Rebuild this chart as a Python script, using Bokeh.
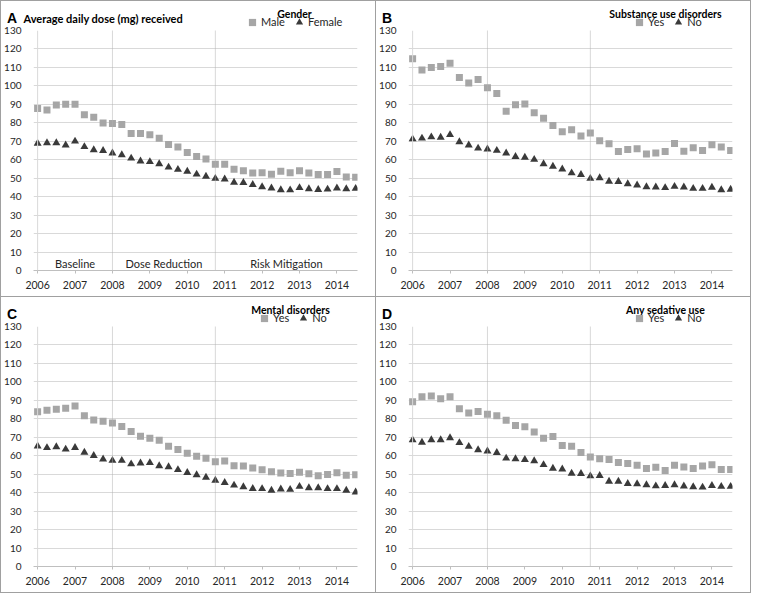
from bokeh.plotting import figure
from bokeh.models import Range1d, FixedTicker, Span, Label, Legend, LegendItem
from bokeh.layouts import column, row
from bokeh.embed import file_html
from bokeh.resources import INLINE

# ---------------- data ----------------
quarters = [2006.0, 2006.25, 2006.5, 2006.75, 2007.0, 2007.25, 2007.5, 2007.75,
            2008.0, 2008.25, 2008.5, 2008.75, 2009.0, 2009.25, 2009.5, 2009.75,
            2010.0, 2010.25, 2010.5, 2010.75, 2011.0, 2011.25, 2011.5, 2011.75,
            2012.0, 2012.25, 2012.5, 2012.75, 2013.0, 2013.25, 2013.5, 2013.75,
            2014.0, 2014.25, 2014.5]
year_ticks = [2006, 2007, 2008, 2009, 2010, 2011, 2012, 2013, 2014]
y_ticks = [0, 10, 20, 30, 40, 50, 60, 70, 80, 90, 100, 110, 120, 130]

gender_male = [87.7, 86.9, 89.7, 90.0, 90.0, 84.4, 83.0, 79.9, 79.6, 79.1,
               74.2, 74.2, 73.5, 71.6, 68.3, 66.9, 63.9, 61.8, 60.4, 57.5,
               57.5, 54.9, 54.0, 52.8, 52.9, 52.1, 53.7, 52.9, 54.0, 52.8,
               52.0, 52.0, 53.6, 50.7, 50.5]
gender_female = [68.8, 69.1, 69.1, 67.9, 70.0, 67.0, 65.3, 64.9, 63.6, 62.6,
                 60.8, 59.2, 58.9, 57.7, 55.9, 54.7, 53.7, 52.1, 51.0, 49.8,
                 49.5, 47.7, 47.6, 46.5, 45.3, 44.6, 43.7, 43.6, 44.8, 44.2,
                 43.8, 44.0, 44.6, 44.2, 44.4]
sud_yes = [114.7, 108.6, 110.0, 110.5, 112.3, 104.6, 101.5, 103.4, 99.0, 95.9,
           86.2, 89.8, 90.2, 85.5, 82.5, 78.5, 75.2, 76.3, 72.8, 74.5,
           70.3, 68.6, 64.5, 65.6, 66.0, 63.1, 63.6, 64.5, 68.8, 64.6,
           66.5, 65.0, 68.1, 66.9, 65.0]
sud_no = [71.2, 71.6, 72.3, 72.1, 73.5, 69.7, 67.9, 66.2, 65.7, 65.0,
          63.6, 61.7, 61.3, 60.1, 57.7, 56.4, 54.9, 52.8, 51.9, 49.8,
          50.2, 48.3, 48.1, 46.9, 46.2, 45.3, 45.1, 44.8, 45.5, 45.1,
          44.4, 44.4, 45.0, 43.7, 43.9]
mental_yes = [83.8, 84.6, 85.2, 85.7, 86.9, 81.7, 79.4, 78.7, 77.7, 75.9,
              73.1, 70.5, 69.5, 68.4, 65.1, 63.4, 61.4, 59.7, 58.6, 56.7,
              57.1, 54.6, 54.5, 53.4, 52.4, 51.3, 50.6, 50.4, 51.0, 50.3,
              49.2, 49.9, 50.8, 49.4, 49.7]
mental_no = [65.2, 64.3, 64.8, 63.5, 64.4, 61.8, 60.0, 58.1, 57.4, 57.4,
             55.5, 56.0, 56.2, 54.5, 53.9, 52.4, 50.8, 49.6, 48.3, 46.6,
             45.4, 44.0, 43.1, 42.2, 42.1, 41.2, 41.9, 41.7, 43.3, 42.6,
             42.6, 42.1, 42.1, 41.2, 40.3]
sedative_yes = [89.3, 91.9, 92.4, 90.8, 91.9, 85.4, 83.2, 83.9, 82.5, 81.6,
                79.2, 76.4, 75.7, 72.8, 69.5, 70.4, 65.6, 65.1, 61.8, 59.3,
                58.3, 57.9, 56.4, 55.8, 54.8, 53.1, 53.8, 52.0, 54.8, 53.9,
                53.1, 54.5, 55.1, 52.5, 52.5]
sedative_no = [68.5, 67.2, 68.6, 68.6, 69.7, 67.0, 65.0, 63.2, 62.5, 61.7,
               58.6, 58.3, 57.9, 57.2, 55.1, 53.1, 52.7, 50.4, 50.3, 49.0,
               49.2, 46.1, 46.1, 44.9, 44.7, 44.2, 43.6, 43.8, 44.2, 43.5,
               43.1, 42.9, 43.8, 43.3, 43.3]

phase_bounds = [2008.0, 2010.75]
phase_labels = ["Baseline", "Dose Reduction", "Risk Mitigation"]
phase_centers = [2007.0, 2009.375, 2012.65]

# ---------------- style ----------------
W = 374
HEAD_H = 27
OVERLAP = 5
PLOT_H = 273
X_LO, X_HI = 2005.89, 2014.55
SQ_COLOR = "#a6a6a6"
TRI_COLOR = "#3a3a3a"
TXT = "#262626"
FONT = "Lato"


def make_header(letter, heading, group, names, sq_vals, tri_vals, group_cx, legend_x):
    h = figure(width=W, height=HEAD_H, output_backend="svg", toolbar_location=None,
               title=None, x_range=Range1d(0, W), y_range=Range1d(0, HEAD_H),
               x_axis_type=None, y_axis_type=None, frame_align=False,
               min_border_left=0, min_border_right=0, min_border_top=0, min_border_bottom=0,
               background_fill_color="white", border_fill_color="white",
               outline_line_color=None)
    h.add_layout(Label(x=5.5, y=11, text=letter, text_font="Liberation Sans",
                       text_font_style="bold", text_font_size="14px",
                       text_color="black", text_baseline="alphabetic"))
    if heading:
        h.add_layout(Label(x=22, y=10, text=heading, text_font=FONT,
                           text_font_style="bold", text_font_size="11px",
                           text_color="black", text_baseline="alphabetic"))
    h.add_layout(Label(x=group_cx, y=14.2, text=group, text_align="center",
                       text_font=FONT, text_font_style="bold",
                       text_font_size="10.5px", text_color="black",
                       text_baseline="alphabetic"))
    # legend swatches: the series themselves, lying outside this header's ranges
    g_sq = h.scatter(quarters, sq_vals, marker="square", fill_color=SQ_COLOR, line_color=None)
    g_tri = h.scatter(quarters, tri_vals, marker="triangle", fill_color=TRI_COLOR, line_color=None)
    legend = Legend(items=[LegendItem(label=names[0], renderers=[g_sq]),
                           LegendItem(label=names[1], renderers=[g_tri])],
                    orientation="horizontal", location=(legend_x, -2.5),
                    glyph_width=18, glyph_height=18, label_height=18, label_width=0,
                    label_standoff=-4, spacing=5, padding=0, margin=0,
                    border_line_color=None, background_fill_alpha=0,
                    label_text_font=FONT, label_text_font_size="11px",
                    label_text_color=TXT)
    h.add_layout(legend)
    return h


def make_plot(sq_vals, tri_vals, phases):
    p = figure(width=W, height=PLOT_H, output_backend="svg", toolbar_location=None, title=None,
               x_range=Range1d(X_LO, X_HI), y_range=Range1d(0, 130), frame_align=False,
               min_border_left=32, min_border_right=18, min_border_top=7, min_border_bottom=26,
               background_fill_color="white", border_fill_color=None,
               outline_line_color=None, margin=(-OVERLAP, 0, 0, 0))
    p.xgrid.visible = False
    p.ygrid.grid_line_color = "#d9d9d9"
    p.ygrid.grid_line_width = 1

    p.yaxis.ticker = FixedTicker(ticks=y_ticks)
    p.yaxis.axis_line_color = None
    p.yaxis.major_tick_line_color = None
    p.yaxis.minor_tick_line_color = None
    p.yaxis.major_label_standoff = 6
    p.yaxis.major_label_text_font = FONT
    p.yaxis.major_label_text_font_size = "10px"
    p.yaxis.major_label_text_color = TXT

    p.xaxis.ticker = FixedTicker(ticks=year_ticks)
    p.xaxis.axis_line_color = "#bfbfbf"
    p.xaxis.major_tick_line_color = "#bfbfbf"
    p.xaxis.major_tick_out = 3
    p.xaxis.major_tick_in = 0
    p.xaxis.minor_tick_line_color = None
    p.xaxis.major_label_standoff = 7
    p.xaxis.major_label_text_font = FONT
    p.xaxis.major_label_text_font_size = "10.5px"
    p.xaxis.major_label_text_color = TXT

    p.add_layout(Span(location=quarters[0], dimension="height", line_color="#d9d9d9", line_width=1))
    for b in phase_bounds:
        p.add_layout(Span(location=b, dimension="height", line_color="#b0b0b0",
                          line_width=1, line_dash="1 1"))

    p.scatter(quarters, sq_vals, marker="square", size=7,
              fill_color=SQ_COLOR, line_color=None)
    p.scatter(quarters, tri_vals, marker="triangle", size=8,
              fill_color=TRI_COLOR, line_color=None)

    if phases:
        for c, t in zip(phase_centers, phase_labels):
            p.add_layout(Label(x=c, y=0, y_offset=7, text=t, text_align="center",
                               text_baseline="middle", text_font=FONT,
                               text_font_size="11px", text_color=TXT))
    return p


def make_panel(letter, heading, group, names, sq_vals, tri_vals, group_cx, legend_x, phases):
    return column(make_header(letter, heading, group, names, sq_vals, tri_vals, group_cx, legend_x),
                  make_plot(sq_vals, tri_vals, phases), spacing=0,
                  styles={"background-color": "white"})


pA = make_panel("A", "Average daily dose (mg) received", "Gender", ["Male", "Female"],
                gender_male, gender_female, 293, 242, True)
pB = make_panel("B", None, "Substance use disorders", ["Yes", "No"],
                sud_yes, sud_no, 289, 254, False)
pC = make_panel("C", None, "Mental disorders", ["Yes", "No"],
                mental_yes, mental_no, 289, 254, False)
pD = make_panel("D", None, "Any sedative use", ["Yes", "No"],
                sedative_yes, sedative_no, 289, 254, False)

grid = column(row(pA, pB, spacing=1), row(pC, pD, spacing=1), spacing=1,
              styles={"background-color": "#a0a0a0", "padding": "1px"})

open("out.html", "w").write(file_html(grid, INLINE))
